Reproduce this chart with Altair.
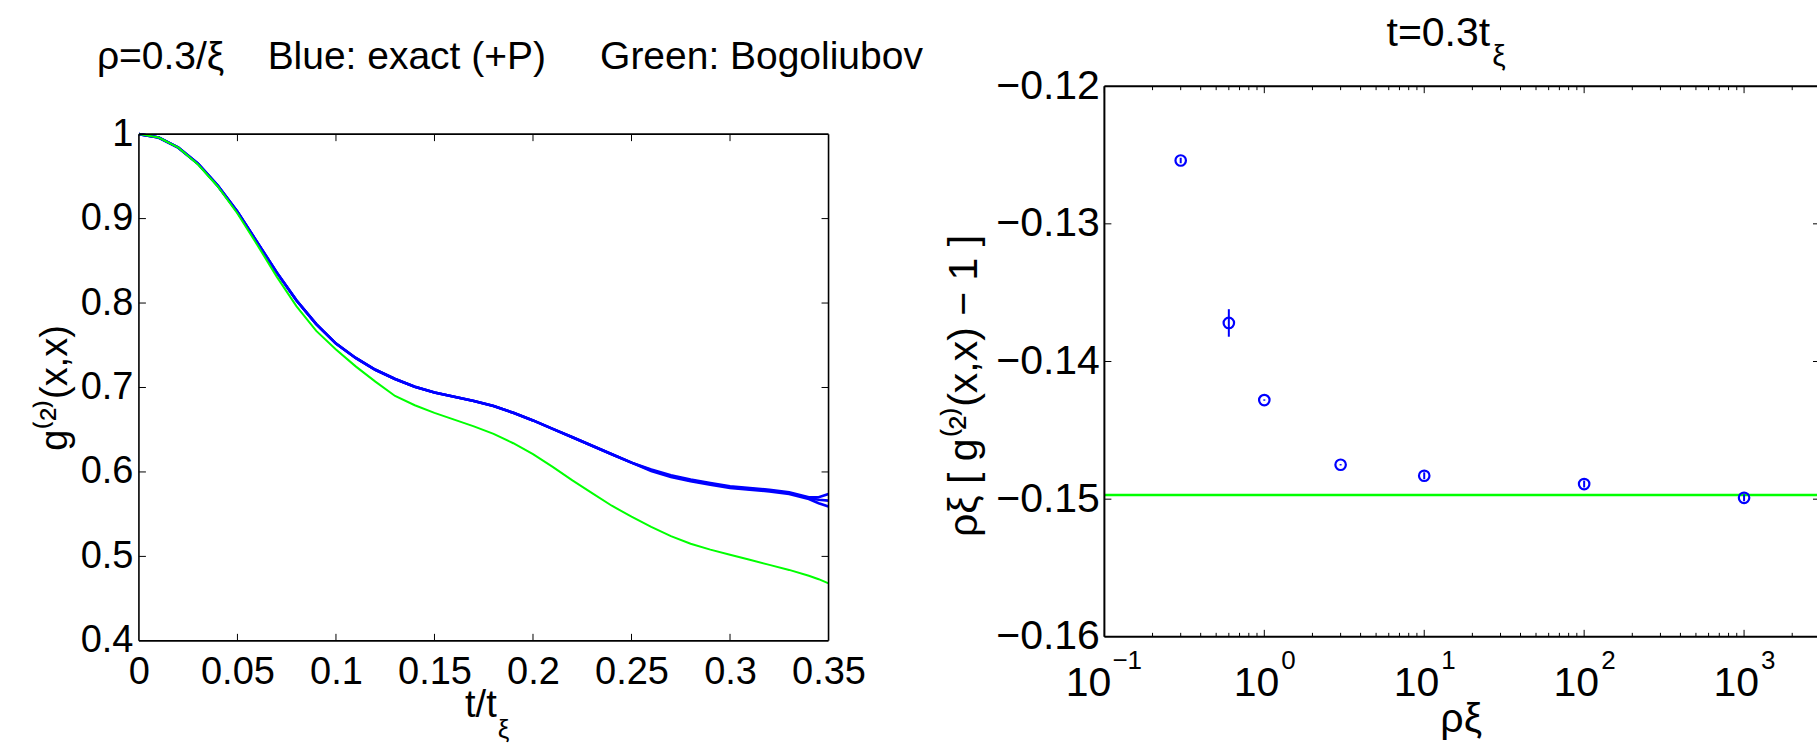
import altair as alt
import pandas as pd

FONT = "Liberation Sans"
BLUE = "#0000ff"
GREEN = "#00ff00"
NB = "\u00a0"

# ---------------- left panel data ----------------
t_vals = [0.00, 0.01, 0.02, 0.03, 0.04, 0.05, 0.06, 0.07, 0.08, 0.09,
          0.10, 0.11, 0.12, 0.13, 0.14, 0.15, 0.16, 0.17, 0.18, 0.19,
          0.20, 0.21, 0.22, 0.23, 0.24, 0.25, 0.26, 0.27, 0.28, 0.29,
          0.30, 0.31, 0.32, 0.33, 0.34, 0.345, 0.35]
g_blue_mid = [1.000, 0.996, 0.984, 0.965, 0.939, 0.908, 0.872, 0.836, 0.803, 0.775,
              0.752, 0.735, 0.721, 0.710, 0.701, 0.694, 0.689, 0.684, 0.678, 0.670,
              0.661, 0.651, 0.641, 0.631, 0.621, 0.611, 0.602, 0.595, 0.590, 0.586,
              0.582, 0.580, 0.578, 0.575, 0.569, 0.567, 0.566]
g_blue_hi = [1.000, 0.996, 0.984, 0.965, 0.939, 0.908, 0.872, 0.836, 0.803, 0.775,
             0.752, 0.735, 0.721, 0.710, 0.701, 0.694, 0.689, 0.684, 0.678, 0.670,
             0.661, 0.651, 0.641, 0.631, 0.621, 0.611, 0.603, 0.596, 0.591, 0.587,
             0.583, 0.581, 0.579, 0.576, 0.570, 0.570, 0.574]
g_blue_lo = [1.000, 0.996, 0.984, 0.965, 0.939, 0.908, 0.872, 0.836, 0.803, 0.775,
             0.752, 0.735, 0.721, 0.710, 0.701, 0.694, 0.689, 0.684, 0.678, 0.670,
             0.661, 0.651, 0.641, 0.631, 0.621, 0.611, 0.601, 0.594, 0.589, 0.585,
             0.581, 0.579, 0.577, 0.574, 0.568, 0.563, 0.559]
g_green = [1.000, 0.996, 0.984, 0.964, 0.938, 0.906, 0.869, 0.831, 0.796, 0.767,
           0.745, 0.725, 0.707, 0.690, 0.679, 0.670, 0.662, 0.654, 0.645, 0.634,
           0.621, 0.606, 0.590, 0.575, 0.560, 0.547, 0.535, 0.524, 0.515, 0.508,
           0.502, 0.496, 0.490, 0.484, 0.477, 0.473, 0.468]

left_x_label_vals = [0, 0.05, 0.1, 0.15, 0.2, 0.25, 0.3, 0.35]
left_y_label_vals = [0.4, 0.5, 0.6, 0.7, 0.8, 0.9, 1.0]
left_x_ticks = [0.05, 0.1, 0.15, 0.2, 0.25, 0.3]
left_y_ticks = [0.5, 0.6, 0.7, 0.8, 0.9]
left_title = "ρ=0.3/ξ" + NB * 4 + "Blue: exact (+P)" + NB * 5 + "Green: Bogoliubov"
left_ytitle = "g⁽²⁾(x,x)"

# ---------------- right panel data ----------------
rho_xi = [0.3, 0.6, 1, 3, 10, 100, 1000]
g2_scaled = [-0.1254, -0.1372, -0.1428, -0.1475, -0.1483, -0.1489, -0.1499]
g2_err = [0.0002, 0.0010, 0.00005, 0.00005, 0.00025, 0.00025, 0.00025]
bogoliubov = [-0.1497]
right_x_domain = [0.1, 2858]
right_x_major = [0.1, 1, 10, 100, 1000]
right_x_exp = ["−1", "0", "1", "2", "3"]
right_x_minor = [0.2, 0.3, 0.4, 0.5, 0.6, 0.7, 0.8, 0.9,
                 2, 3, 4, 5, 6, 7, 8, 9,
                 20, 30, 40, 50, 60, 70, 80, 90,
                 200, 300, 400, 500, 600, 700, 800, 900, 2000]
right_y_vals = [-0.16, -0.15, -0.14, -0.13, -0.12]
right_y_ticks = [-0.15, -0.14, -0.13]
right_ytitle = "ρξ [ g⁽²⁾(x,x) − 1 ]"
right_xtitle = "ρξ"

# ---------------- left panel ----------------
W1, H1, TOP1 = 690, 555, 48          # plot box spans TOP1..H1 vertically
xs1 = alt.Scale(domain=[left_x_label_vals[0], left_x_label_vals[-1]], nice=False, zero=False)
ys1 = alt.Scale(domain=[left_y_label_vals[0], left_y_label_vals[-1]],
                range=[H1, TOP1], nice=False, zero=False)

blue_df = pd.concat([
    pd.DataFrame({"t": t_vals, "g": g_blue_hi, "s": "hi"}),
    pd.DataFrame({"t": t_vals, "g": g_blue_mid, "s": "mid"}),
    pd.DataFrame({"t": t_vals, "g": g_blue_lo, "s": "lo"}),
])
green_df = pd.DataFrame({"t": t_vals, "g": g_green})

x_axis1 = alt.Axis(values=left_x_label_vals, format="~g", title=None, ticks=False,
                   tickSize=0, domain=False, grid=False, labelFont=FONT,
                   labelFontSize=38, labelPadding=13, labelColor="black",
                   labelFlush=False, labelOverlap=False)
y_axis1 = alt.Axis(values=left_y_label_vals, format="~g", title=left_ytitle,
                   ticks=False, tickSize=0, domain=False, grid=False,
                   labelFont=FONT, labelFontSize=38, labelPadding=6,
                   labelColor="black", labelOverlap=False, labelFlush=False,
                   titleFont=FONT, titleFontSize=38, titleFontWeight="normal",
                   titleColor="black", titleX=-72, titleY=(H1 + TOP1) / 2,
                   titleBaseline="alphabetic", titleAngle=270)

blue_lines = alt.Chart(blue_df).mark_line(strokeWidth=2.6, color=BLUE).encode(
    x=alt.X("t:Q", scale=xs1, axis=x_axis1),
    y=alt.Y("g:Q", scale=ys1, axis=y_axis1),
    detail="s:N",
)
green_line = alt.Chart(green_df).mark_line(strokeWidth=2, color=GREEN).encode(
    x=alt.X("t:Q", scale=xs1),
    y=alt.Y("g:Q", scale=ys1),
)

X0, X1 = left_x_label_vals[0], left_x_label_vals[-1]
Y0, Y1 = left_y_label_vals[0], left_y_label_vals[-1]
box_kw = dict(color="black", strokeWidth=1.6)
lbox = [
    alt.Chart().mark_rule(**box_kw).encode(x=alt.datum(X0, scale=xs1), y=alt.datum(Y0, scale=ys1), y2=alt.datum(Y1)),
    alt.Chart().mark_rule(**box_kw).encode(x=alt.datum(X1, scale=xs1), y=alt.datum(Y0, scale=ys1), y2=alt.datum(Y1)),
    alt.Chart().mark_rule(**box_kw).encode(y=alt.datum(Y0, scale=ys1), x=alt.datum(X0, scale=xs1), x2=alt.datum(X1)),
    alt.Chart().mark_rule(**box_kw).encode(y=alt.datum(Y1, scale=ys1), x=alt.datum(X0, scale=xs1), x2=alt.datum(X1)),
]

lxt = pd.DataFrame({"t": left_x_ticks})
lyt = pd.DataFrame({"g": left_y_ticks})
TK = 7
lt_bottom = alt.Chart(lxt).mark_rule(color="black", strokeWidth=1).encode(
    x=alt.X("t:Q", scale=xs1), y=alt.value(H1), y2=alt.value(H1 - TK))
lt_top = alt.Chart(lxt).mark_rule(color="black", strokeWidth=1).encode(
    x=alt.X("t:Q", scale=xs1), y=alt.value(TOP1), y2=alt.value(TOP1 + TK))
lt_left = alt.Chart(lyt).mark_rule(color="black", strokeWidth=1).encode(
    y=alt.Y("g:Q", scale=ys1), x=alt.value(0), x2=alt.value(TK))
lt_right = alt.Chart(lyt).mark_rule(color="black", strokeWidth=1).encode(
    y=alt.Y("g:Q", scale=ys1), x=alt.value(W1), x2=alt.value(W1 - TK))

xt_main = alt.Chart(pd.DataFrame({"txt": ["t/t"]})).mark_text(
    font=FONT, fontSize=38, align="right", baseline="alphabetic", color="black"
).encode(text="txt:N", x=alt.value(W1 / 2 + 13), y=alt.value(H1 + 76))
xt_sub = alt.Chart(pd.DataFrame({"txt": ["ξ"]})).mark_text(
    font=FONT, fontSize=26, align="left", baseline="alphabetic", color="black"
).encode(text="txt:N", x=alt.value(W1 / 2 + 14), y=alt.value(H1 + 97))
ltitle = alt.Chart(pd.DataFrame({"txt": [left_title]})).mark_text(
    font=FONT, fontSize=39, align="left", baseline="alphabetic", color="black"
).encode(text="txt:N", x=alt.value(-42), y=alt.value(-17))

left = alt.layer(blue_lines, green_line, *lbox, lt_bottom, lt_top, lt_left, lt_right,
                 xt_main, xt_sub, ltitle).properties(width=W1, height=H1)

# ---------------- right panel ----------------
W2, H2 = 713, 551
xs2 = alt.Scale(type="log", domain=right_x_domain, nice=False)
ys2 = alt.Scale(domain=[right_y_vals[0], right_y_vals[-1]], nice=False, zero=False)

pts_df = pd.DataFrame({"rx": rho_xi, "val": g2_scaled, "err": g2_err})

x_axis2 = alt.Axis(labels=False, ticks=False, tickSize=0, domain=False, grid=False,
                   title=right_xtitle, titleFont=FONT, titleFontSize=41,
                   titleFontWeight="normal", titleColor="black",
                   titleY=95, titleBaseline="alphabetic")
y_axis2 = alt.Axis(values=right_y_vals, format=".2f", ticks=False, tickSize=0,
                   domain=False, grid=False, labelFont=FONT, labelFontSize=41,
                   labelPadding=5, labelColor="black", labelOverlap=False,
                   labelFlush=False, title=right_ytitle, titleFont=FONT,
                   titleFontSize=41, titleFontWeight="normal", titleColor="black",
                   titleX=-128, titleY=H2 / 2 + 24, titleBaseline="alphabetic",
                   titleAngle=270)

bog_line = alt.Chart(pd.DataFrame({"val": bogoliubov})).mark_rule(
    color=GREEN, strokeWidth=2.5).encode(y=alt.Y("val:Q", scale=ys2))

errbars = alt.Chart(pts_df).transform_calculate(
    lo="datum.val - datum.err", hi="datum.val + datum.err"
).mark_rule(color=BLUE, strokeWidth=2).encode(
    x=alt.X("rx:Q", scale=xs2), y=alt.Y("lo:Q", scale=ys2), y2="hi:Q")

points = alt.Chart(pts_df).mark_point(shape="circle", filled=False, size=110,
                                      strokeWidth=2.2, color=BLUE, opacity=1).encode(
    x=alt.X("rx:Q", scale=xs2, axis=x_axis2),
    y=alt.Y("val:Q", scale=ys2, axis=y_axis2),
)

RX0, RX1 = right_x_domain
RY0, RY1 = right_y_vals[0], right_y_vals[-1]
rbox_kw = dict(color="black", strokeWidth=2)
rbox = [
    alt.Chart().mark_rule(**rbox_kw).encode(x=alt.datum(RX0, scale=xs2), y=alt.datum(RY0, scale=ys2), y2=alt.datum(RY1)),
    alt.Chart().mark_rule(**rbox_kw).encode(y=alt.datum(RY0, scale=ys2), x=alt.datum(RX0, scale=xs2), x2=alt.datum(RX1)),
    alt.Chart().mark_rule(**rbox_kw).encode(y=alt.datum(RY1, scale=ys2), x=alt.datum(RX0, scale=xs2), x2=alt.datum(RX1)),
]

maj_df = pd.DataFrame({"rx": right_x_major, "base": ["10"] * len(right_x_major),
                       "exp": right_x_exp})
min_df = pd.DataFrame({"rx": right_x_minor})
ryt = pd.DataFrame({"val": right_y_ticks})
MJ, MN = 7, 4
rt = []
for d, L in ((maj_df, MJ), (min_df, MN)):
    rt.append(alt.Chart(d).mark_rule(color="black", strokeWidth=1).encode(
        x=alt.X("rx:Q", scale=xs2), y=alt.value(H2), y2=alt.value(H2 - L)))
    rt.append(alt.Chart(d).mark_rule(color="black", strokeWidth=1).encode(
        x=alt.X("rx:Q", scale=xs2), y=alt.value(0), y2=alt.value(L)))
rt.append(alt.Chart(ryt).mark_rule(color="black", strokeWidth=1).encode(
    y=alt.Y("val:Q", scale=ys2), x=alt.value(0), x2=alt.value(MJ)))
rt.append(alt.Chart(ryt).mark_rule(color="black", strokeWidth=1).encode(
    y=alt.Y("val:Q", scale=ys2), x=alt.value(W2), x2=alt.value(W2 - 4)))

neg = "datum.exp == '−1'"
base_neg = alt.Chart(maj_df).transform_filter(neg).mark_text(
    font=FONT, fontSize=41, align="right", baseline="alphabetic", color="black", dx=7
).encode(x=alt.X("rx:Q", scale=xs2), y=alt.value(H2 + 59), text="base:N")
exp_neg = alt.Chart(maj_df).transform_filter(neg).mark_text(
    font=FONT, fontSize=26, align="left", baseline="alphabetic", color="black", dx=8
).encode(x=alt.X("rx:Q", scale=xs2), y=alt.value(H2 + 32), text="exp:N")
base_pos = alt.Chart(maj_df).transform_filter("!(" + neg + ")").mark_text(
    font=FONT, fontSize=41, align="right", baseline="alphabetic", color="black", dx=15
).encode(x=alt.X("rx:Q", scale=xs2), y=alt.value(H2 + 59), text="base:N")
exp_pos = alt.Chart(maj_df).transform_filter("!(" + neg + ")").mark_text(
    font=FONT, fontSize=26, align="left", baseline="alphabetic", color="black", dx=17
).encode(x=alt.X("rx:Q", scale=xs2), y=alt.value(H2 + 32), text="exp:N")

rtitle_main = alt.Chart(pd.DataFrame({"txt": ["t=0.3t"]})).mark_text(
    font=FONT, fontSize=41, align="right", baseline="alphabetic", color="black"
).encode(text="txt:N", x=alt.value(386), y=alt.value(-40))
rtitle_sub = alt.Chart(pd.DataFrame({"txt": ["ξ"]})).mark_text(
    font=FONT, fontSize=30, align="left", baseline="alphabetic", color="black"
).encode(text="txt:N", x=alt.value(388), y=alt.value(-20))

right = alt.layer(bog_line, errbars, points, *rbox, *rt, base_neg, exp_neg, base_pos,
                  exp_pos, rtitle_main, rtitle_sub).properties(width=W2, height=H2)

chart = alt.hconcat(left, right, spacing=276, bounds="flush").properties(
    padding={"left": 37, "top": 13, "right": 0, "bottom": 0},
    background="white",
).configure_view(strokeWidth=0, stroke="transparent")

chart.save("out.html", embed_options={"renderer": "svg", "actions": False})
